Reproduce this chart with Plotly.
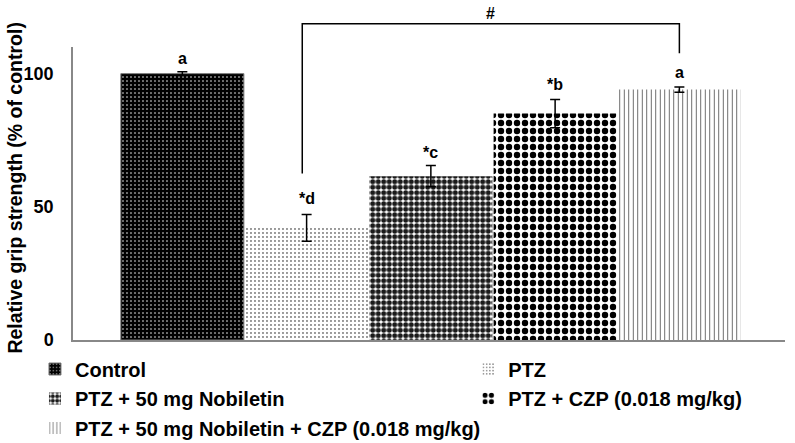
import plotly.graph_objects as go

categories = ["Control", "PTZ", "PTZ + 50 mg Nobiletin", "PTZ + CZP (0.018 mg/kg)",
              "PTZ + 50 mg Nobiletin + CZP (0.018 mg/kg)"]
values = [100, 42.1, 61.5, 85.0, 94.0]
errors = [0.7, 5.0, 4.0, 5.3, 1.0]
sig_labels = ["a", "*d", "*c", "*b", "a"]
label_y = [105.8, 53.2, 70.5, 96.0, 100.5]
legend_ids = ["legend", "legend2", "legend", "legend2", "legend"]
y_ticks = [0, 50, 100]
y_range = [0, 110]
y_title = "Relative grip strength (% of control)"
# bracket (data units): left x, right x, left bottom y, top y, right bottom y
bracket_x = [0.965, 4.0]
bracket_y = [62.5, 118.7, 107.7]
bracket_label = "#"

patterns = [
    dict(shape=".", bgcolor="black", fgcolor="white", size=4, solidity=0.12, fillmode="replace"),
    dict(shape=".", bgcolor="white", fgcolor="black", size=4, solidity=0.1, fillmode="replace"),
    dict(shape=".", bgcolor="white", fgcolor="#1a1a1a", size=5.5, solidity=0.66, fillmode="replace"),
    dict(shape=".", bgcolor="white", fgcolor="black", size=8, solidity=0.5, fillmode="replace"),
    dict(shape="|", bgcolor="white", fgcolor="#333333", size=4.5, solidity=0.16, fillmode="replace"),
]
lines = [dict(color="#777777", width=1), dict(width=0), dict(width=0), dict(width=0), dict(width=0)]

FONT = "Liberation Sans, Arial, sans-serif"

fig = go.Figure()
for i, c in enumerate(categories):
    fig.add_trace(go.Bar(
        x=[c], y=[values[i]], name=c,
        marker=dict(color="white", pattern=patterns[i], line=lines[i]),
        error_y=dict(type="data", array=[errors[i]], color="black", thickness=1.5, width=5),
        legend=legend_ids[i], legendgroup=c,
    ))

for i, c in enumerate(categories):
    fig.add_annotation(x=c, y=label_y[i], text=sig_labels[i], showarrow=False,
                       xref="x", yref="y",
                       font=dict(family=FONT, size=16, color="black", weight="bold"))

span = y_range[1] - y_range[0]
py = [(v - y_range[0]) / span for v in bracket_y]
fig.add_shape(type="path", xref="x", yref="paper",
              path=f"M {bracket_x[0]},{py[0]} L {bracket_x[0]},{py[1]} L {bracket_x[1]},{py[1]} L {bracket_x[1]},{py[2]}",
              line=dict(color="black", width=1.5))
fig.add_annotation(x=(bracket_x[0] + bracket_x[1]) / 2, y=py[1], xref="x", yref="paper",
                   text=bracket_label, showarrow=False, yanchor="bottom", yshift=0,
                   font=dict(family=FONT, size=16, color="black", weight="bold"))

# y-axis title as rotated annotation
fig.add_annotation(x=-0.0815, y=0.52, xref="paper", yref="paper", text=y_title,
                   textangle=-90, showarrow=False, xanchor="center", yanchor="middle",
                   font=dict(family=FONT, size=19.5, color="black", weight="bold"))

legend_font = dict(family=FONT, size=20, color="black", weight="bold")
fig.update_layout(
    width=795, height=443,
    margin=dict(l=73, r=10, t=47, b=103, autoexpand=False),
    paper_bgcolor="white", plot_bgcolor="white",
    barmode="overlay", bargap=0.01,
    showlegend=True,
    legend=dict(x=0.044, y=0.211, xref="container", yref="container",
                xanchor="left", yanchor="top", orientation="v",
                font=legend_font, tracegroupgap=0.5, bgcolor="rgba(0,0,0,0)"),
    legend2=dict(x=0.589, y=0.211, xref="container", yref="container",
                 xanchor="left", yanchor="top", orientation="v",
                 font=legend_font, tracegroupgap=0.5, bgcolor="rgba(0,0,0,0)"),
    xaxis=dict(range=[-0.88, 4.85], showticklabels=False, ticks="", showgrid=False,
               showline=True, linecolor="#888888", linewidth=1.5, zeroline=False,
               automargin=False),
    yaxis=dict(range=y_range, tickvals=y_ticks, ticks="", showgrid=False, zeroline=False,
               showline=True, linecolor="#888888", linewidth=1.5, automargin=False,
               ticklabelstandoff=14,
               tickfont=dict(family=FONT, size=18, color="black", weight="bold")),
)

fig.write_html("out.html", config={"displayModeBar": False},
               post_script="document.body.style.margin='0';")
